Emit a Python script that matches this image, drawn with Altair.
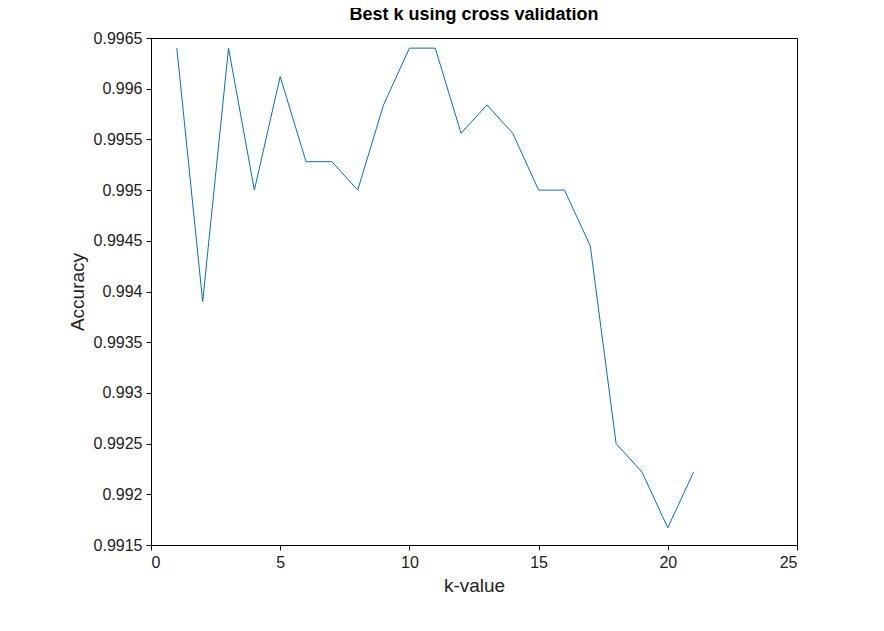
import altair as alt
import pandas as pd

k_values = list(range(1, 22))
accuracy = [0.99640, 0.99390, 0.99640, 0.99500, 0.99612, 0.99528, 0.99528,
            0.99500, 0.99584, 0.99640, 0.99640, 0.99556, 0.99584, 0.99556,
            0.99500, 0.99500, 0.99445, 0.99250, 0.99222, 0.99167, 0.99222]

df = pd.DataFrame({"k": k_values, "acc": accuracy})

chart = alt.Chart(df).mark_line(color="#0072BD", strokeWidth=1).encode(
    x=alt.X("k:Q", title="k-value",
            scale=alt.Scale(domain=[0, 25], nice=False),
            axis=alt.Axis(values=[0, 5, 10, 15, 20, 25], grid=False)),
    y=alt.Y("acc:Q", title="Accuracy",
            scale=alt.Scale(domain=[0.9915, 0.9965], nice=False, zero=False),
            axis=alt.Axis(values=[0.9915 + 0.0005 * i for i in range(11)],
                          format="~g", grid=False)),
).properties(
    width=646, height=507,
    background="white",
    title=alt.TitleParams("Best k using cross validation", fontSize=18,
                          fontWeight="bold", font="Liberation Sans", offset=6),
    autosize=alt.AutoSizeParams(type="none"),
    padding={"left": 143, "top": 30, "right": 30, "bottom": 80},
).configure_view(
    stroke="black", strokeWidth=1
).configure_axis(
    labelFont="Liberation Sans", titleFont="Liberation Sans",
    labelFontSize=16, titleFontSize=19, titleFontWeight="normal",
    labelColor="#222", titleColor="#222",
    domainColor="black", tickColor="black", tickSize=5,
    labelPadding=4, titlePadding=6,
)

chart.save("out.html", embed_options={"renderer": "svg", "actions": False})
